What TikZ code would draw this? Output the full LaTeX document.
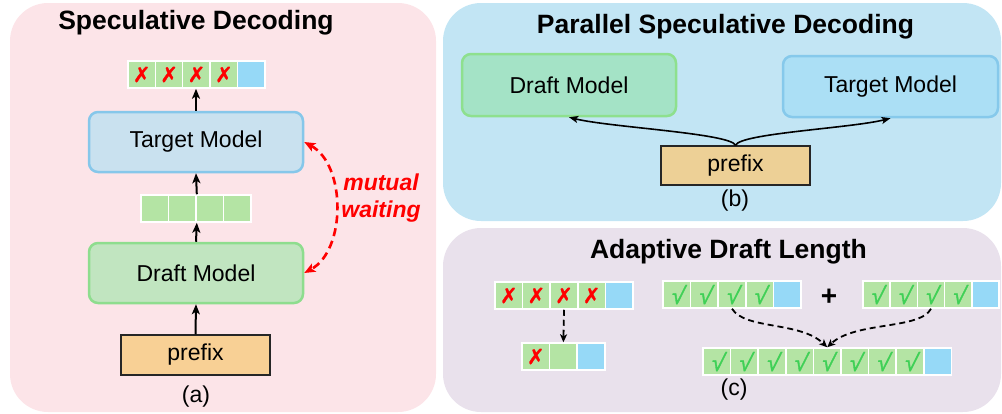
\documentclass[tikz,border=0pt]{standalone}
\usepackage{fontspec}
\setmainfont{Liberation Sans}
\newfontfamily\symfont[FakeBold=1.2]{DejaVu Sans}
\newfontfamily\chkfont[FakeSlant=0.2,FakeBold=1.5]{Liberation Sans}
\usetikzlibrary{arrows.meta}
\definecolor{panelA}{HTML}{FCE4E8}
\definecolor{panelB}{HTML}{C2E5F4}
\definecolor{panelC}{HTML}{E9E1EC}
\definecolor{tgtAfill}{HTML}{C9E1EF}
\definecolor{tgtAline}{HTML}{86C7EA}
\definecolor{drfAfill}{HTML}{C1E5C0}
\definecolor{drfAline}{HTML}{8EDD8E}
\definecolor{preAfill}{HTML}{F8D095}
\definecolor{drfBfill}{HTML}{A4E3C6}
\definecolor{drfBline}{HTML}{8EE08E}
\definecolor{tgtBfill}{HTML}{ABDFF5}
\definecolor{tgtBline}{HTML}{86C9EB}
\definecolor{preBfill}{HTML}{EDD096}
\definecolor{tokg}{HTML}{B4E4A4}
\definecolor{tokblue}{HTML}{96D9F7}
\definecolor{xred}{HTML}{FF0000}
\definecolor{chkg}{HTML}{3FD056}
\newcommand\crossmk{{\symfont\color{xred}\fontsize{21}{21}\selectfont ✗}}
\newcommand\checkmk{{\chkfont\color{chkg}\fontsize{24}{24}\selectfont √}}
\begin{document}
\begin{tikzpicture}[x=1pt,y=-1pt,
  every node/.style={inner sep=0pt},
  panel/.style={rounded corners=38pt},
  title/.style={font=\bfseries\fontsize{26.5}{30}\selectfont},
  lbl/.style={font=\fontsize{23}{27}\selectfont},
  model/.style={rounded corners=9pt, line width=2.5pt, minimum width=214pt, minimum height=60pt, font=\fontsize{23}{27}\selectfont},
  prefixbox/.style={draw=black!85, line width=1.5pt, minimum width=149pt, minimum height=40pt, font=\fontsize{23}{27}\selectfont},
  tok/.style={minimum width=27.6pt, minimum height=27pt, draw=white, line width=1.5pt, fill=tokg},
  tokbl/.style={tok, fill=tokblue},
  flow/.style={-{Stealth[length=10pt,width=8pt,inset=2.5pt]}, line width=2pt},
  thinflow/.style={-{Stealth[length=9pt,width=7pt,inset=2pt]}, line width=1.6pt},
  dashflow/.style={-{Stealth[length=8pt,width=7pt,inset=2pt]}, line width=1.8pt, dash pattern=on 6pt off 4pt},
  waitflow/.style={{Stealth[length=11pt,width=9pt,inset=2.5pt]}-{Stealth[length=11pt,width=9pt,inset=2.5pt]}, line width=2.6pt, dash pattern=on 8pt off 5pt, draw=xred},
]
\useasboundingbox (0,0) rectangle (1002,413);
% panels
\fill[panelA, panel] (10,3) rectangle (436,412);
\fill[panelB, panel] (443,3) rectangle (1001,221);
\fill[panelC, panel] (443,228) rectangle (1001,412);

% ---------- (a) ----------
\node[title] (tA) at (196,23) {Speculative Decoding};
\foreach \i in {1,...,4} \node[tok] (a\i) at ({141.7+(\i-1)*27.4},74.5) {\crossmk};
\node[tokbl] (a5) at (251.3,74.5) {};
\foreach \i in {1,...,4} \node[tok] (m\i) at ({154.75+(\i-1)*27.5},208.5) {};
\node[model, draw=tgtAline, fill=tgtAfill] (tgtA) at (196,142) {Target Model};
\node[model, draw=drfAline, fill=drfAfill] (drfA) at (196,273) {Draft Model};
\node[prefixbox, fill=preAfill] (preA) at (195.5,355) {prefix};
\node[lbl] (capA) at (196,397) {(a)};
\draw[flow] (preA.north) -- (drfA.south);
\draw[flow] (drfA.north) -- (m2.south east);
\draw[flow] (m2.north east) -- (tgtA.south);
\draw[flow] (tgtA.north) -- (tgtA.north |- a3.south);
\draw[waitflow] (tgtA.east) .. controls +(42,23) and +(42,-23) .. (drfA.east);
\node[font=\bfseries\itshape\fontsize{23}{27}\selectfont, text=xred, align=center] (mw) at (381,198) {mutual\\waiting};

% ---------- (b) ----------
\node[title] (tB) at (725.5,27) {Parallel Speculative Decoding};
\node[model, draw=drfBline, fill=drfBfill, minimum height=62pt] (drfB) at (569,85) {Draft Model};
\node[model, draw=tgtBline, fill=tgtBfill, minimum width=215pt, minimum height=61pt] (tgtB) at (890.5,86.5) {Target Model};
\node[prefixbox, fill=preBfill, minimum height=39pt] (preB) at (735.5,165.5) {prefix};
\node[lbl] (capB) at (735,201) {(b)};
\draw[thinflow] (preB.north) .. controls +(-5,-12) and +(40,10) .. (drfB.south);
\draw[thinflow] (preB.north) .. controls +(5,-12) and +(-40,10) .. (tgtB.south);

% ---------- (c) ----------
\node[title] (tC) at (728.5,252) {Adaptive Draft Length};
\foreach \i in {1,...,4} \node[tok] (l\i) at ({508.8+(\i-1)*27.6},295.5) {\crossmk};
\node[tokbl] (l5) at (619.2,295.5) {};
\node[tok] (r1) at (535.8,356.5) {\crossmk};
\node[tok] (r2) at (563.4,356.5) {};
\node[tokbl] (r3) at (591,356.5) {};
\draw[dashflow] (l3.south) -- (r2.north);
\foreach \i in {1,...,4} \node[tok] (p\i) at ({676.8+(\i-1)*27.6},294.5) {\checkmk};
\node[tokbl] (p5) at (787.2,294.5) {};
\node[font=\bfseries\fontsize{28}{30}\selectfont] (plus) at (829,297) {+};
\foreach \i in {1,...,4} \node[tok, minimum width=27.2pt] (q\i) at ({876.6+(\i-1)*27.2},294.5) {\checkmk};
\node[tokbl, minimum width=27.2pt] (q5) at (985.4,294.5) {};
\foreach \i in {1,...,8} \node[tok] (s\i) at ({716.8+(\i-1)*27.6},361.5) {\checkmk};
\node[tokbl] (s9) at (937.6,361.5) {};
\draw[dashflow] (p3.south) .. controls +(13,21) and +(-27,-26) .. (s5.north);
\draw[dashflow] (q3.south) .. controls +(-11,21) and +(28,-26) .. (s5.north);
\node[lbl] (capC) at (734,390) {(c)};
\end{tikzpicture}
\end{document}
